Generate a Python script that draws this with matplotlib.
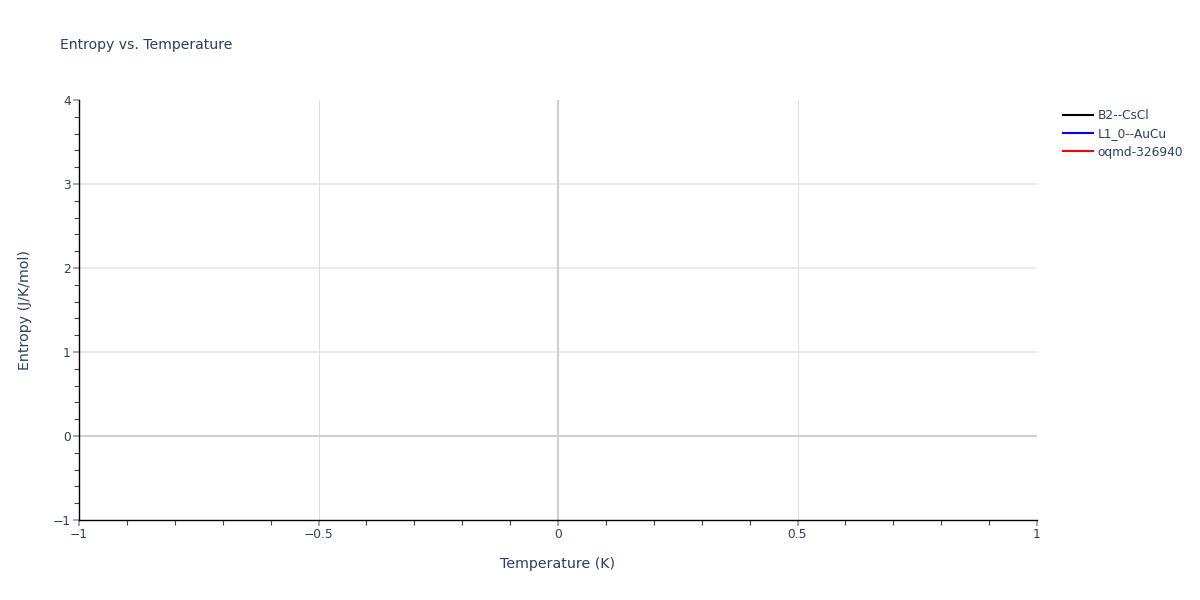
import matplotlib
matplotlib.use("Agg")
from matplotlib import pyplot as plt
from matplotlib.ticker import MultipleLocator

plt.rcParams['font.family'] = ['DejaVu Sans']

# series (no data points in the reference)
series_names = ["B2--CsCl", "L1_0--AuCu", "oqmd-326940"]
series_colors = ["black", "blue", "red"]
temps = [[], [], []]
entropy = [[], [], []]

x_ticks = [-1, -0.5, 0, 0.5, 1]
x_labels = ["\u22121", "\u22120.5", "0", "0.5", "1"]
y_ticks = [-1, 0, 1, 2, 3, 4]
y_labels = ["\u22121", "0", "1", "2", "3", "4"]

text_col = "#2a3f5f"

fig = plt.figure(figsize=(12, 6), dpi=100)
ax = fig.add_axes([79 / 1200, 80 / 600, 958 / 1200, 420 / 600])

for t, s, name, c in zip(temps, entropy, series_names, series_colors):
    ax.plot(t, s, color=c, linewidth=1.5, label=name)

ax.set_xlim(-1, 1)
ax.set_ylim(-1, 4)

# grid
for y in [1, 2, 3]:
    ax.axhline(y, color="#ebebeb", linewidth=1.5, zorder=0)
for x in [-0.5, 0.5]:
    ax.axvline(x, color="#dedede", linewidth=0.8, zorder=0)
ax.axhline(0, color="#d0d0d0", linewidth=1.5, zorder=0)
ax.axvline(0, color="#d0d0d0", linewidth=1.5, zorder=0)

for side in ["top", "right"]:
    ax.spines[side].set_visible(False)
for side in ["left", "bottom"]:
    ax.spines[side].set_color("black")
    ax.spines[side].set_linewidth(1.0)

ax.set_xticks(x_ticks)
ax.set_xticklabels(x_labels)
ax.set_yticks(y_ticks)
ax.set_yticklabels(y_labels)
ax.xaxis.set_minor_locator(MultipleLocator(0.1))
ax.yaxis.set_minor_locator(MultipleLocator(0.2))
ax.tick_params(which="major", direction="out", length=4, width=1.2,
               color="#999999", labelsize=8.8, labelcolor=text_col, pad=2)
ax.tick_params(which="minor", direction="out", length=3.5, width=0.8,
               color="#444444")

ax.set_xlabel("Temperature (K)", fontsize=10.2, color=text_col, labelpad=11)
ax.set_ylabel("Entropy (J/K/mol)", fontsize=10.2, color=text_col, labelpad=15)

fig.text(60 / 1200, 1 - 45 / 600, "Entropy vs. Temperature", fontsize=10.1,
         color=text_col, va="center", ha="left")

leg = fig.legend(loc="upper left", bbox_to_anchor=(1058 / 1200, 1 - 104 / 600),
                 frameon=False, fontsize=8.7, handlelength=2.5,
                 handletextpad=0.4, labelspacing=0.45, borderaxespad=0)
for txt in leg.get_texts():
    txt.set_color(text_col)

fig.savefig("out.png", dpi=100)
